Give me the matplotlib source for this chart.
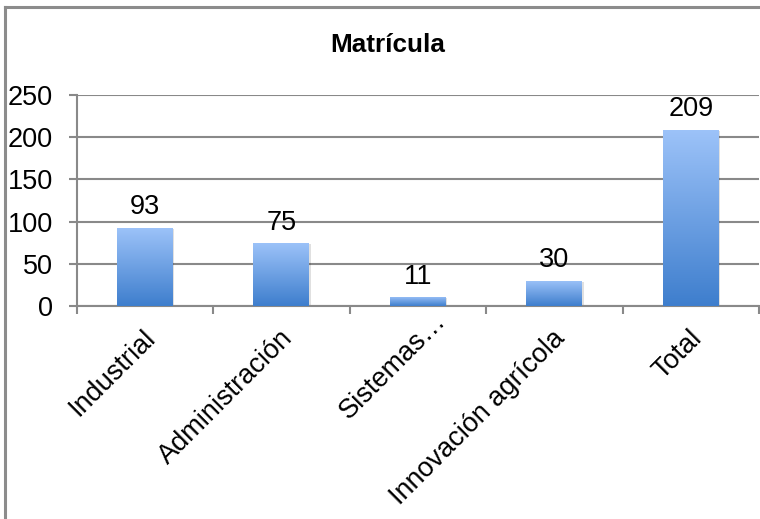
import numpy as np
import matplotlib
matplotlib.use("Agg")
import matplotlib.pyplot as plt
from matplotlib.lines import Line2D
from matplotlib.colors import LinearSegmentedColormap
from matplotlib.patches import Rectangle
import matplotlib.transforms as mtransforms

categories = ["Industrial", "Administración", "Sistemas…", "Innovación agrícola", "Total"]
values = [93, 75, 11, 30, 209]
yticks = [0, 50, 100, 150, 200, 250]
title = "Matrícula"

plt.rcParams['font.family'] = ['Liberation Sans', 'DejaVu Sans']
FS = 19.5
W, H = 760, 519
fig = plt.figure(figsize=(W / 100, H / 100), dpi=100)
ax = fig.add_axes([76.5 / W, 1 - 306 / H, (759 - 76.5) / W, (306 - 95) / H])

grid_c = "#898989"
ax.set_xlim(0, len(categories))
ax.set_ylim(0, 250)
ax.set_yticks(yticks)
ax.set_xticks(np.arange(len(categories) + 1))
ax.set_xticklabels([])
ax.tick_params(axis='y', direction='out', length=6, width=1.5, color=grid_c, labelsize=FS, pad=11)
ax.tick_params(axis='x', direction='out', length=6, width=1.5, color=grid_c)
for s in ['top', 'right']:
    ax.spines[s].set_visible(False)
for s in ['left', 'bottom']:
    ax.spines[s].set_color(grid_c)
    ax.spines[s].set_linewidth(1.5)
ax.yaxis.grid(True, color=grid_c, linewidth=1.5)
ax.set_axisbelow(True)

cmap = LinearSegmentedColormap.from_list("g", ["#3E7ECD", "#9DC3F9"])
grad = np.linspace(0, 1, 256).reshape(-1, 1)
bw = 0.41
xs = np.arange(len(categories)) + 0.5
for x, v in zip(xs, values):
    sh = mtransforms.offset_copy(ax.transData, fig=fig, x=1.5, y=-1.5, units='dots')
    ax.add_patch(Rectangle((x - bw / 2, 0), bw, v, facecolor="#000000", alpha=0.12,
                           edgecolor='none', transform=sh, zorder=2))
    r = Rectangle((x - bw / 2, 0), bw, v, facecolor='none', edgecolor='none', zorder=3)
    ax.add_patch(r)
    im = ax.imshow(grad, cmap=cmap, aspect='auto', origin='lower',
                   extent=(x - bw / 2, x + bw / 2, 0, v), zorder=3, interpolation='bilinear')
    im.set_clip_path(r)
    ax.annotate(str(v), (x, v), xytext=(0, 9.5), textcoords='offset points',
                ha='center', va='baseline', fontsize=FS, color='black', zorder=5)

ax.set_xlim(0, len(categories))
ax.set_ylim(0, 250)

# extra shift (pixels) for the truncated label, as Excel places it
label_shift = {"Sistemas…": (17, 17)}
for x, c in zip(xs, categories):
    dx, dy = label_shift.get(c, (0, 0))
    trans = mtransforms.offset_copy(ax.get_xaxis_transform(), fig=fig,
                                    x=-2 + dx, y=-19 + dy, units='dots')
    ax.text(x, 0, c, rotation=45, rotation_mode='anchor', ha='right', va='top',
            fontsize=FS, transform=trans)

fig.text(388 / W, 1 - 45 / H, title, ha='center', va='center', fontsize=18.8, fontweight='bold')

bc = "#8c8c8c"
fig.add_artist(Line2D([5 / W, 5 / W], [0, 1 - 7 / H], color=bc, linewidth=2.2, transform=fig.transFigure))
fig.add_artist(Line2D([5 / W, 1], [1 - 7 / H, 1 - 7 / H], color=bc, linewidth=2.2, transform=fig.transFigure))

fig.savefig("out.png", dpi=100)
